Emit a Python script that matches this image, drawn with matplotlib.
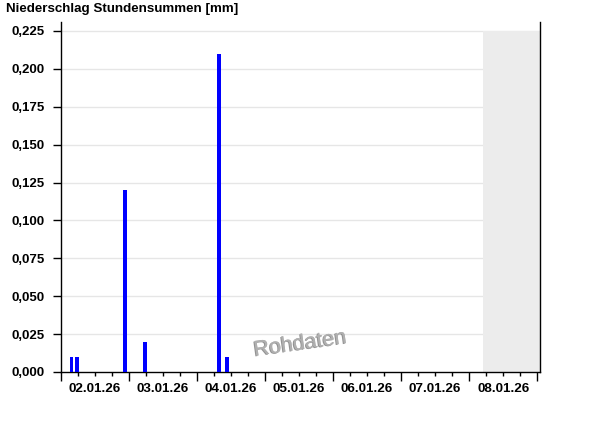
import matplotlib
matplotlib.use("Agg")
import matplotlib.pyplot as plt
import matplotlib.dates as mdates
import matplotlib.ticker as mticker
import matplotlib.patheffects as pe
import pandas as pd

# ---- data ----
bar_times = ["2026-01-02 03:00", "2026-01-02 05:00", "2026-01-02 22:00",
             "2026-01-03 05:00", "2026-01-04 07:00", "2026-01-04 10:00"]
bar_values = [0.01, 0.01, 0.12, 0.02, 0.21, 0.01]
x_start = "2026-01-02 00:00"
x_end = "2026-01-09 01:00"
future_start = "2026-01-08 05:00"
y_ticks = [0, 0.025, 0.05, 0.075, 0.1, 0.125, 0.15, 0.175, 0.2, 0.225]
title = "Niederschlag Stundensummen [mm]"
watermark = "Rohdaten"

plt.rcParams['font.family'] = ['Liberation Sans', 'DejaVu Sans']

fig = plt.figure(figsize=(6.0, 4.26), dpi=100)
ax = fig.add_axes([61/600, 54/426, (540-61)/600, (404-54)/426])

t = pd.to_datetime(bar_times)
xs = mdates.date2num(t)
ax.bar(xs, bar_values, width=1.4/24, align='edge', color='#0000ff', zorder=3)

x0 = mdates.date2num(pd.Timestamp(x_start))
x1 = mdates.date2num(pd.Timestamp(x_end))
xf = mdates.date2num(pd.Timestamp(future_start))
ax.fill_between([xf, x1], 0, y_ticks[-1], color='#ececec', lw=0, zorder=1)

ax.set_xlim(x0, x1)
ax.set_ylim(0, 0.2309)

# grid
for yv in y_ticks[1:]:
    ax.axhline(yv, color='#e6e6e6', lw=1, zorder=0)

ax.set_yticks(y_ticks)
ax.yaxis.set_major_formatter(mticker.FuncFormatter(lambda v, p: f"{v:.3f}".replace('.', ',')))
ax.tick_params(axis='y', length=6, width=1, pad=6, labelsize=9.5)
for lab in ax.get_yticklabels():
    lab.set_fontweight('bold')

ax.xaxis.set_major_locator(mdates.DayLocator())
ax.xaxis.set_major_formatter(mticker.NullFormatter())
ax.xaxis.set_minor_locator(mdates.HourLocator(byhour=[6, 12, 18]))
def minor_fmt(v, p):
    d = mdates.num2date(v)
    return d.strftime("%d.%m.%y") if d.hour == 12 else ""
ax.xaxis.set_minor_formatter(mticker.FuncFormatter(minor_fmt))
ax.tick_params(axis='x', which='major', length=6.5, width=1)
ax.tick_params(axis='x', which='minor', length=3, width=1, pad=5, labelsize=9.7)
for lab in ax.get_xticklabels(minor=True):
    lab.set_fontweight('bold')

ax.spines['top'].set_visible(False)
for s in ['left', 'right', 'bottom']:
    ax.spines[s].set_linewidth(1)
    ax.spines[s].set_color('black')

fig.text(6/600, 1 - 9/426, title, fontsize=9.6, fontweight='bold', va='center', ha='left')

fig.text(300/600, 1 - 344/426, watermark, fontsize=15.5, color='#b0b0b0', rotation=8,
         ha='center', va='center',
         path_effects=[pe.withSimplePatchShadow(offset=(-0.8, -0.5), shadow_rgbFace='#666666', alpha=0.7),
                       pe.Normal()])

fig.savefig("out.png", dpi=100)
